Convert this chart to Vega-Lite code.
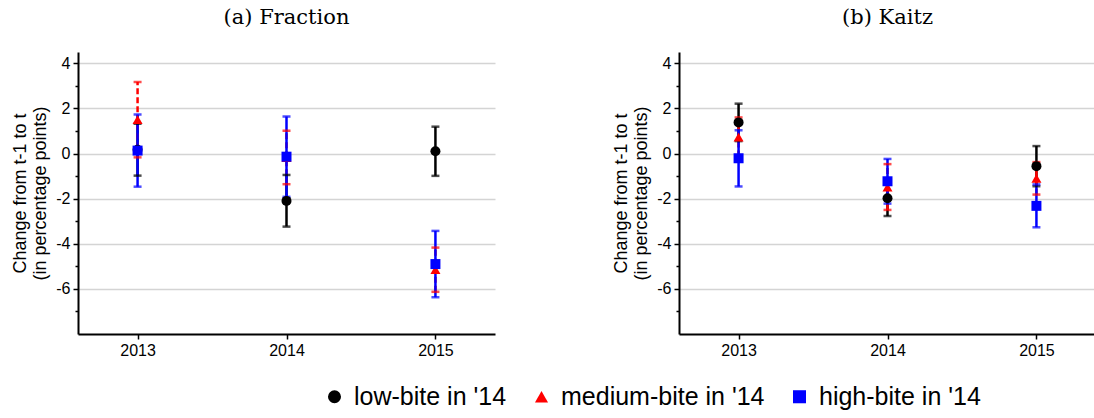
{
  "$schema": "https://vega.github.io/schema/vega-lite/v6.json",
  "padding": {"left": 11, "top": 7, "right": 0, "bottom": 0},
  "background": "white",
  "datasets": {
    "est": [
      {"panel": "a", "year": 2013, "group": "low-bite in '14", "est": 0.17, "lo": -0.98, "hi": 1.32},
      {"panel": "a", "year": 2014, "group": "low-bite in '14", "est": -2.1, "lo": -3.24, "hi": -0.95},
      {"panel": "a", "year": 2015, "group": "low-bite in '14", "est": 0.1, "lo": -0.99, "hi": 1.19},
      {"panel": "a", "year": 2013, "group": "medium-bite in '14", "est": 1.5, "lo": -0.17, "hi": 3.17},
      {"panel": "a", "year": 2014, "group": "medium-bite in '14", "est": -0.18, "lo": -1.36, "hi": 1.01},
      {"panel": "a", "year": 2015, "group": "medium-bite in '14", "est": -5.15, "lo": -6.13, "hi": -4.17},
      {"panel": "a", "year": 2013, "group": "high-bite in '14", "est": 0.13, "lo": -1.47, "hi": 1.73},
      {"panel": "a", "year": 2014, "group": "high-bite in '14", "est": -0.14, "lo": -1.92, "hi": 1.64},
      {"panel": "a", "year": 2015, "group": "high-bite in '14", "est": -4.9, "lo": -6.37, "hi": -3.43},
      {"panel": "b", "year": 2013, "group": "low-bite in '14", "est": 1.38, "lo": 0.55, "hi": 2.21},
      {"panel": "b", "year": 2014, "group": "low-bite in '14", "est": -1.98, "lo": -2.77, "hi": -1.19},
      {"panel": "b", "year": 2015, "group": "low-bite in '14", "est": -0.56, "lo": -1.45, "hi": 0.33},
      {"panel": "b", "year": 2013, "group": "medium-bite in '14", "est": 0.73, "lo": -0.13, "hi": 1.6},
      {"panel": "b", "year": 2014, "group": "medium-bite in '14", "est": -1.49, "lo": -2.5, "hi": -0.47},
      {"panel": "b", "year": 2015, "group": "medium-bite in '14", "est": -1.1, "lo": -1.82, "hi": -0.38},
      {"panel": "b", "year": 2013, "group": "high-bite in '14", "est": -0.21, "lo": -1.46, "hi": 1.03},
      {"panel": "b", "year": 2014, "group": "high-bite in '14", "est": -1.23, "lo": -2.22, "hi": -0.24},
      {"panel": "b", "year": 2015, "group": "high-bite in '14", "est": -2.32, "lo": -3.27, "hi": -1.37}
    ]
  },
  "data": {"name": "est"},
  "spacing": 117,
  "hconcat": [
    {
      "title": {"text": "(a) Fraction"},
      "width": 417,
      "height": 282,
      "transform": [{"filter": "datum.panel === 'a'"}],
      "resolve": {"axis": {"y": "independent"}},
      "encoding": {
        "x": {"field": "year", "type": "quantitative", "scale": {"domain": [2012.6, 2015.4], "nice": false, "zero": false},
              "axis": {"values": [2013, 2014, 2015], "format": "d", "title": null, "grid": false, "tickSize": 5, "labelPadding": 3}},
        "color": {"field": "group", "type": "nominal",
                  "scale": {"domain": ["low-bite in '14", "medium-bite in '14", "high-bite in '14"], "range": ["#000000", "#ff0000", "#0000ff"]},
                  "legend": {"title": null, "orient": "none", "legendX": 244, "legendY": 332, "direction": "horizontal"}}
      },
      "layer": [
        {
          "mark": {"type": "rule", "color": "#555555", "strokeWidth": 1.5},
          "encoding": {"y": {"datum": 0, "type": "quantitative", "scale": {"domain": [-8, 4.5], "nice": false, "zero": false},
                             "axis": {"title": ["Change from t-1 to t", "(in percentage points)"], "values": [-6, -4, -2, 0, 2, 4], "labelExpr": "'' + datum.value", "grid": true}},
                       "color": {"value": "#555555"}}
        },
        {
          "mark": {"type": "rule", "strokeWidth": 2.5},
          "encoding": {
            "y": {"field": "lo", "type": "quantitative",
                  "axis": {"orient": "left", "title": null, "values": [-7, -5, -3, -1, 1, 3], "labels": false, "grid": false, "tickSize": 3, "domain": false}},
            "y2": {"field": "hi"},
            "strokeDash": {"field": "group", "type": "nominal", "legend": null,
                           "scale": {"domain": ["low-bite in '14", "medium-bite in '14", "high-bite in '14"], "range": [[1, 0], [6, 3], [1, 0]]}}
          }
        },
        {
          "mark": {"type": "tick", "orient": "horizontal", "size": 8, "thickness": 2.5},
          "encoding": {"y": {"field": "lo", "type": "quantitative", "axis": null}}
        },
        {
          "mark": {"type": "tick", "orient": "horizontal", "size": 8, "thickness": 2.5},
          "encoding": {"y": {"field": "hi", "type": "quantitative", "axis": null}}
        },
        {
          "mark": {"type": "point", "filled": true, "size": 100, "opacity": 1},
          "encoding": {
            "y": {"field": "est", "type": "quantitative", "axis": null},
            "shape": {"field": "group", "type": "nominal",
                      "scale": {"domain": ["low-bite in '14", "medium-bite in '14", "high-bite in '14"], "range": ["circle", "triangle-up", "square"]},
                      "legend": {"title": null, "orient": "none", "legendX": 244, "legendY": 332, "direction": "horizontal"}}
          }
        }
      ]
    },
    {
      "title": {"text": "(b) Kaitz"},
      "width": 417,
      "height": 282,
      "transform": [{"filter": "datum.panel === 'b'"}],
      "resolve": {"axis": {"y": "independent"}},
      "encoding": {
        "x": {"field": "year", "type": "quantitative", "scale": {"domain": [2012.6, 2015.4], "nice": false, "zero": false},
              "axis": {"values": [2013, 2014, 2015], "format": "d", "title": null, "grid": false, "tickSize": 5, "labelPadding": 3}},
        "color": {"field": "group", "type": "nominal",
                  "scale": {"domain": ["low-bite in '14", "medium-bite in '14", "high-bite in '14"], "range": ["#000000", "#ff0000", "#0000ff"]},
                  "legend": {"title": null, "orient": "none", "legendX": 244, "legendY": 332, "direction": "horizontal"}}
      },
      "layer": [
        {
          "mark": {"type": "rule", "color": "#555555", "strokeWidth": 1.5},
          "encoding": {"y": {"datum": 0, "type": "quantitative", "scale": {"domain": [-8, 4.5], "nice": false, "zero": false},
                             "axis": {"title": ["Change from t-1 to t", "(in percentage points)"], "values": [-6, -4, -2, 0, 2, 4], "labelExpr": "'' + datum.value", "grid": true}},
                       "color": {"value": "#555555"}}
        },
        {
          "mark": {"type": "rule", "strokeWidth": 2.5},
          "encoding": {
            "y": {"field": "lo", "type": "quantitative",
                  "axis": {"orient": "left", "title": null, "values": [-7, -5, -3, -1, 1, 3], "labels": false, "grid": false, "tickSize": 3, "domain": false}},
            "y2": {"field": "hi"},
            "strokeDash": {"field": "group", "type": "nominal", "legend": null,
                           "scale": {"domain": ["low-bite in '14", "medium-bite in '14", "high-bite in '14"], "range": [[1, 0], [6, 3], [1, 0]]}}
          }
        },
        {
          "mark": {"type": "tick", "orient": "horizontal", "size": 8, "thickness": 2.5},
          "encoding": {"y": {"field": "lo", "type": "quantitative", "axis": null}}
        },
        {
          "mark": {"type": "tick", "orient": "horizontal", "size": 8, "thickness": 2.5},
          "encoding": {"y": {"field": "hi", "type": "quantitative", "axis": null}}
        },
        {
          "mark": {"type": "point", "filled": true, "size": 100, "opacity": 1},
          "encoding": {
            "y": {"field": "est", "type": "quantitative", "axis": null},
            "shape": {"field": "group", "type": "nominal",
                      "scale": {"domain": ["low-bite in '14", "medium-bite in '14", "high-bite in '14"], "range": ["circle", "triangle-up", "square"]},
                      "legend": {"title": null, "orient": "none", "legendX": 244, "legendY": 332, "direction": "horizontal"}}
          }
        }
      ]
    }
  ],
  "config": {
    "view": {"stroke": null},
    "font": "Liberation Sans",
    "title": {"font": "DejaVu Serif", "fontSize": 21, "fontWeight": "normal", "color": "#000000", "anchor": "middle", "offset": 24},
    "axis": {"domainColor": "#000000", "domainWidth": 2, "tickColor": "#000000", "tickWidth": 1.5,
             "labelFont": "Liberation Sans", "labelFontSize": 16, "labelColor": "#000000",
             "titleFont": "Liberation Sans", "titleFontSize": 18, "titleFontWeight": "normal", "titleColor": "#000000", "titleLineHeight": 20},
    "axisY": {"labelPadding": 3, "titlePadding": 6, "gridColor": "#d4d4d4", "gridWidth": 1.5, "tickSize": 5},
    "legend": {"padding": 0, "labelLimit": 0,
               "labelFont": "Liberation Sans", "labelFontSize": 25, "labelColor": "#000000", "symbolSize": 170,
               "labelOffset": 7, "columnPadding": 22, "symbolStrokeWidth": 0, "symbolOpacity": 1}
  }
}
